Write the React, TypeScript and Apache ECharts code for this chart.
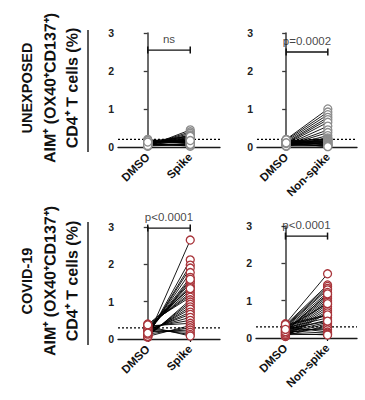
import React, { useEffect, useRef } from 'react';
import * as echarts from 'echarts';

// ---- data ----
const spikeCategories = ['DMSO', 'Spike'];
const nonSpikeCategories = ['DMSO', 'Non-spike'];
const yTicks = [0, 1, 2, 3];
const rowTitles = ['UNEXPOSED', 'COVID-19'];
const yAxisTitle = 'AIM⁺ (OX40⁺CD137⁺)\nCD4⁺ T cells (%)';

// UNEXPOSED donors
const unexposedSpikeDMSO = [0.02, 0.04, 0.05, 0.06, 0.08, 0.09, 0.1, 0.11, 0.12, 0.13, 0.14, 0.15, 0.16, 0.18, 0.2, 0.03, 0.07, 0.1, 0.12, 0.05, 0.08, 0.15, 0.17, 0.06, 0.09, 0.11, 0.04, 0.13];
const unexposedSpikeStim = [0.45, 0.4, 0.36, 0.32, 0.3, 0.27, 0.25, 0.22, 0.2, 0.18, 0.16, 0.14, 0.12, 0.1, 0.08, 0.06, 0.04, 0.02, 0.15, 0.19, 0.23, 0.28, 0.11, 0.09, 0.05, 0.13, 0.07, 0.17];
const unexposedNonSpikeDMSO = [0.2, 0.18, 0.15, 0.12, 0.1, 0.08, 0.06, 0.05, 0.04, 0.03, 0.02, 0.14, 0.16, 0.11, 0.09, 0.07, 0.13, 0.05, 0.1, 0.12, 0.08, 0.06, 0.17, 0.04, 0.19, 0.03, 0.09, 0.11];
const unexposedNonSpikeStim = [1.0, 0.92, 0.85, 0.78, 0.72, 0.65, 0.55, 0.45, 0.38, 0.3, 0.24, 0.22, 0.2, 0.19, 0.18, 0.16, 0.15, 0.13, 0.12, 0.1, 0.09, 0.08, 0.06, 0.05, 0.04, 0.03, 0.02, 0.01];

// COVID-19 donors
const covidSpikeDMSO = [0.05, 0.08, 0.1, 0.12, 0.15, 0.18, 0.2, 0.22, 0.25, 0.28, 0.3, 0.33, 0.36, 0.4, 0.06, 0.09, 0.11, 0.14, 0.17, 0.21, 0.24, 0.27, 0.31, 0.35, 0.07, 0.13, 0.19, 0.23, 0.29, 0.34, 0.38, 0.16];
const covidSpikeStim = [2.65, 2.12, 1.98, 1.9, 1.78, 1.65, 1.55, 1.5, 1.42, 1.38, 1.3, 1.23, 1.18, 1.12, 1.05, 0.99, 0.93, 0.86, 0.8, 0.72, 0.66, 0.58, 0.5, 0.42, 0.36, 0.3, 0.24, 0.18, 0.12, 0.08, 1.35, 1.6];
const covidNonSpikeDMSO = [0.38, 0.35, 0.32, 0.3, 0.28, 0.25, 0.22, 0.2, 0.18, 0.15, 0.12, 0.1, 0.08, 0.06, 0.05, 0.04, 0.33, 0.27, 0.21, 0.16, 0.11, 0.07, 0.14, 0.24, 0.3, 0.19, 0.09, 0.13, 0.26, 0.36, 0.17, 0.23];
const covidNonSpikeStim = [1.72, 1.42, 1.38, 1.33, 1.29, 1.22, 1.15, 1.1, 1.05, 1.0, 0.96, 0.9, 0.84, 0.78, 0.72, 0.67, 0.6, 0.54, 0.48, 0.42, 0.38, 0.33, 0.28, 0.22, 0.16, 0.13, 0.1, 0.08, 0.92, 0.62, 1.18, 0.45];

// thresholds (dotted lines) and significance labels
const thresholds = [0.2, 0.2, 0.3, 0.3];
const pLabels = ['ns', 'p=0.0002', 'p<0.0001', 'p<0.0001'];
const bracketLevels = [2.55, 2.5, 2.97, 2.73];

const FONT = 'Arial, "Liberation Sans", Helvetica, sans-serif';
const GRAY = '#8c8c8c';
const RED = '#a8343a';

const panels = [
  { cats: spikeCategories, dmso: unexposedSpikeDMSO, stim: unexposedSpikeStim, color: GRAY, grid: { left: 118, top: 33, width: 102, height: 114 } },
  { cats: nonSpikeCategories, dmso: unexposedNonSpikeDMSO, stim: unexposedNonSpikeStim, color: GRAY, grid: { left: 257, top: 33, width: 100, height: 114 } },
  { cats: spikeCategories, dmso: covidSpikeDMSO, stim: covidSpikeStim, color: RED, grid: { left: 118, top: 227, width: 102, height: 112 } },
  { cats: nonSpikeCategories, dmso: covidNonSpikeDMSO, stim: covidNonSpikeStim, color: RED, grid: { left: 256, top: 226, width: 101, height: 112 } },
];

// nearly-vertical title rotation
const TITLE_ROT = Math.PI / 2 - 0.002;

function buildOption() {
  const grid = panels.map((p) => p.grid);
  const xAxis = panels.map((p, i) => ({
    type: 'value',
    gridIndex: i,
    min: -0.7,
    max: 1.7,
    splitLine: { show: false },
    axisLine: { show: true, onZero: false, lineStyle: { color: '#1a1a1a', width: 1.3 } },
    axisTick: { show: true, length: 3, customValues: [0, 1], lineStyle: { color: '#1a1a1a', width: 1.2 } },
    axisLabel: {
      show: true,
      customValues: [0, 1],
      rotate: 45,
      margin: 8,
      fontFamily: FONT,
      fontWeight: 'bold',
      fontSize: 11.5,
      color: '#111',
      formatter: (v: number) => p.cats[Math.round(v)] ?? '',
    },
  }));
  const yAxis = panels.map((p, i) => ({
    type: 'value',
    gridIndex: i,
    min: 0,
    max: 3,
    interval: 1,
    splitLine: { show: false },
    axisLine: { show: true, lineStyle: { color: '#3a3a3a', width: 1.5 } },
    axisTick: { show: true, length: 4, lineStyle: { color: '#3a3a3a', width: 1.3 } },
    axisLabel: {
      margin: 4,
      fontFamily: FONT,
      fontWeight: 'bold',
      fontSize: 10.5,
      color: '#222',
      formatter: (v: number) => (yTicks.includes(v) ? String(v) : ''),
    },
  }));

  const series: any[] = [];
  panels.forEach((p, i) => {
    series.push({
      type: 'line',
      xAxisIndex: i,
      yAxisIndex: i,
      silent: true,
      symbol: 'none',
      z: 1,
      lineStyle: { type: [2, 2], color: '#000', width: 1.2 },
      data: [[-0.7, thresholds[i]], [1.7, thresholds[i]]],
    });
    const pairs: any[] = [];
    p.dmso.forEach((a, k) => {
      pairs.push([0, a], [1, p.stim[k]], ['-', '-']);
    });
    series.push({
      type: 'line',
      xAxisIndex: i,
      yAxisIndex: i,
      silent: true,
      symbol: 'none',
      showSymbol: false,
      connectNulls: false,
      z: 2,
      lineStyle: { color: '#000', width: 0.9 },
      data: pairs,
    });
    series.push({
      type: 'scatter',
      xAxisIndex: i,
      yAxisIndex: i,
      z: 3,
      silent: true,
      symbol: 'circle',
      symbolSize: 8,
      itemStyle: { color: '#fff', borderColor: p.color, borderWidth: 1.3, opacity: 1 },
      data: p.dmso.map((v) => [0, v]).concat(p.stim.map((v) => [1, v])),
    });
    series.push({
      type: 'line',
      xAxisIndex: i,
      yAxisIndex: i,
      silent: true,
      z: 4,
      symbol: 'rect',
      symbolSize: [1.5, 7],
      itemStyle: { color: '#111' },
      lineStyle: { color: '#111', width: 1.4 },
      data: [[0, bracketLevels[i]], [1, bracketLevels[i]]],
    });
    series.push({
      type: 'scatter',
      xAxisIndex: i,
      yAxisIndex: i,
      silent: true,
      z: 4,
      symbolSize: 0,
      label: {
        show: true,
        position: 'top',
        distance: 5,
        formatter: () => pLabels[i],
        fontFamily: FONT,
        fontSize: 11.5,
        color: '#111',
      },
      data: [[0.5, bracketLevels[i]]],
    });
  });

  const titleCentersY = [88, 281];
  const graphic: any[] = [];
  titleCentersY.forEach((cy, r) => {
    graphic.push({
      type: 'text', x: 27, y: cy, rotation: TITLE_ROT,
      style: { text: rowTitles[r], font: `bold 14.5px ${FONT}`, fill: '#111', align: 'center', verticalAlign: 'middle' },
    });
    graphic.push({
      type: 'text', x: 61, y: cy, rotation: TITLE_ROT,
      style: { text: yAxisTitle, font: `bold 16px ${FONT}`, lineHeight: 22, fill: '#111', align: 'center', verticalAlign: 'middle' },
    });
  });
  graphic.push(
    { type: 'line', shape: { x1: 88, y1: 30, x2: 88, y2: 152 }, style: { stroke: '#222', lineWidth: 1.5 } },
    { type: 'line', shape: { x1: 88, y1: 222, x2: 88, y2: 345 }, style: { stroke: '#222', lineWidth: 1.5 } },
  );

  return {
    animation: false,
    backgroundColor: '#fff',
    grid,
    xAxis,
    yAxis,
    series,
    graphic,
  };
}

export default function App() {
  const ref = useRef<HTMLDivElement>(null);
  useEffect(() => {
    document.body.style.margin = '0';
    if (!ref.current) return;
    const chart = echarts.init(ref.current, undefined, { renderer: 'svg' });
    chart.setOption(buildOption() as any);
    return () => chart.dispose();
  }, []);
  return <div ref={ref} style={{ width: 365, height: 400 }} />;
}
